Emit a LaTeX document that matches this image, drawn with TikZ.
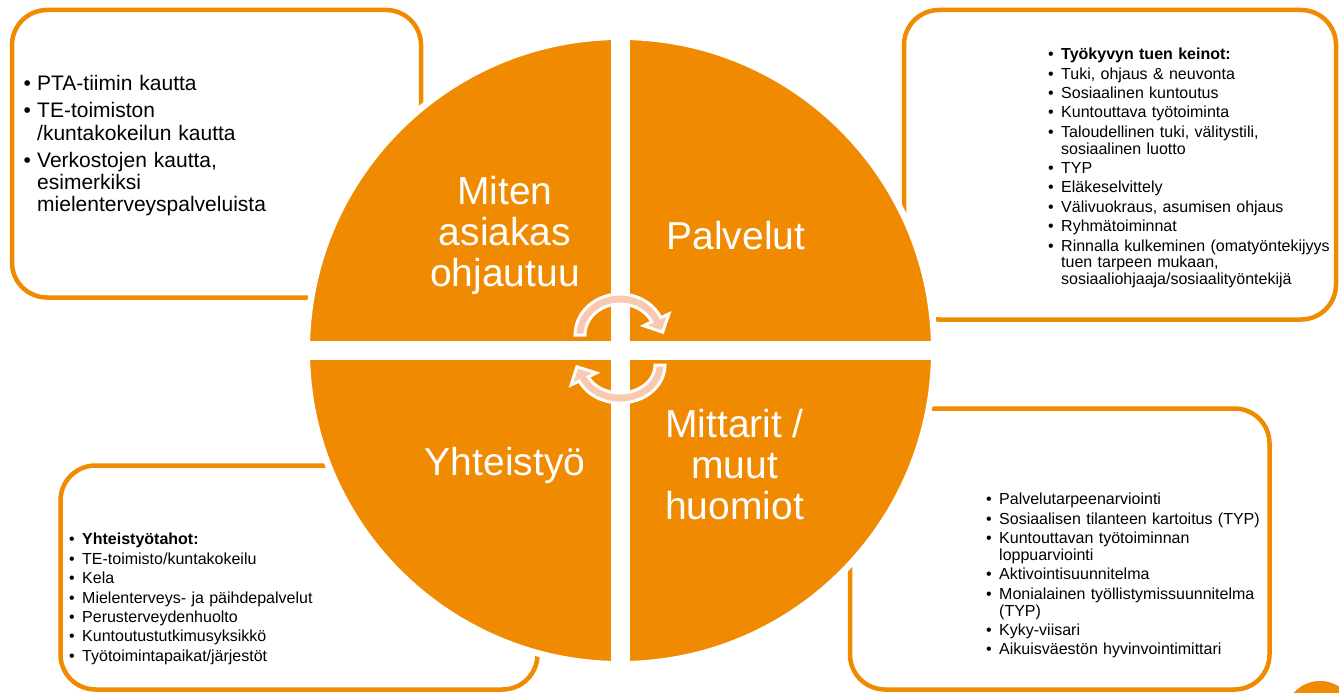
\documentclass[tikz,border=0pt]{standalone}
\usepackage{fontspec}
\setmainfont{Liberation Sans}
\definecolor{brandorange}{HTML}{F08A00}
\definecolor{arrowpink}{HTML}{F8C8B0}
\newlength\bulhang
\newlength\bulgap
\newcommand\bul[1]{\par\parskip=\bulgap\hangindent=\bulhang\hangafter=1\noindent\hbox to\bulhang{\strut\textbullet\hfil}#1\par}
\newcommand\biglist{\fontsize{21}{21.5}\selectfont\setlength\bulhang{13.5pt}\setlength\bulgap{5pt}}
\newcommand\smalllist{\fontsize{16}{16.8}\selectfont\setlength\bulhang{13pt}\setlength\bulgap{2.6pt}}
\begin{document}
\begin{tikzpicture}[x=1pt, y=-1pt]
	\tikzstyle{infobox} = [draw=brandorange, line width=4.5pt, rounded corners=35pt]
	\tikzstyle{quarter} = [text=white, align=center, inner sep=0pt, font=\fontsize{39}{41}\selectfont]
	\tikzstyle{listtext} = [anchor=north west, inner sep=0pt, text width=420pt]
	\tikzstyle{cyclearrow} = [fill=arrowpink, draw=white, line width=3pt, line join=miter]
	\useasboundingbox (0,0) rectangle (1339,693);
	% boxes behind the circle
	\draw[infobox] (12,10) rectangle (421,297.5);
	\draw[infobox] (904,10) rectangle (1336,319.5);
	\draw[infobox] (60.5,465.5) rectangle (537.5,689.5);
	\draw[infobox] (850,408.5) rectangle (1269.5,689.5);
	\fill[brandorange] (1320,716) circle (35);
	% circle in four quarters
	\draw[white, line width=6.5pt, fill=brandorange] (620.5,350.5) circle (313.75);
	\fill[white] (611,35) rectangle (630,666);
	\fill[white] (305,341) rectangle (936,360);
	% cycle arrows
	\draw[cyclearrow] plot[domain=-180:-25, samples=40] ({620+45*cos(\x)}, {335+41*sin(\x)})
		-- (668.9,313.9) -- (662.7,332.2) -- (643.6,325.7)
		-- plot[domain=-25:-180, samples=40] ({620+35*cos(\x)}, {335+31*sin(\x)}) -- cycle;
	\draw[cyclearrow] plot[domain=0:155, samples=40] ({620+45*cos(\x)}, {365+38*sin(\x)})
		-- (571.1,384.9) -- (576.9,366.8) -- (596.4,373.0)
		-- plot[domain=155:0, samples=40] ({620+35*cos(\x)}, {365+28*sin(\x)}) -- cycle;
	\node[quarter] (howto) at (505,235) {Miten\\asiakas\\ohjautuu};
	\node[quarter] (services) at (736,236) {Palvelut};
	\node[quarter] (cooperation) at (505,465) {Yhteistyö};
	\node[quarter] (metrics) at (734.5,465) {Mittarit /\\muut\\huomiot};
	% box texts
	\node[listtext, font=\biglist] (routes) at (23.5,63.6) {\bul{PTA-tiimin kautta}\bul{TE-toimiston\newline /kuntakokeilun kautta}\bul{Verkostojen kautta,\newline esimerkiksi\newline mielenterveyspalveluista}};
	\node[listtext, font=\smalllist] (means) at (1048,40.2) {\bul{\textbf{Työkyvyn tuen keinot:}}\bul{Tuki, ohjaus \& neuvonta}\bul{Sosiaalinen kuntoutus}\bul{Kuntouttava työtoiminta}\bul{Taloudellinen tuki, välitystili,\newline sosiaalinen luotto}\bul{TYP}\bul{Eläkeselvittely}\bul{Välivuokraus, asumisen ohjaus}\bul{Ryhmätoiminnat}\bul{Rinnalla kulkeminen (omatyöntekijyys\newline tuen tarpeen mukaan,\newline sosiaaliohjaaja/sosiaalityöntekijä}};
	\node[listtext, font=\smalllist] (partners) at (69,525.2) {\bul{\textbf{Yhteistyötahot:}}\bul{TE-toimisto/kuntakokeilu}\bul{Kela}\bul{Mielenterveys- ja päihdepalvelut}\bul{Perusterveydenhuolto}\bul{Kuntoutustutkimusyksikkö}\bul{Työtoimintapaikat/järjestöt}};
	\node[listtext, font=\smalllist] (measures) at (986,485.2) {\bul{Palvelutarpeenarviointi}\bul{Sosiaalisen tilanteen kartoitus (TYP)}\bul{Kuntouttavan työtoiminnan\newline loppuarviointi}\bul{Aktivointisuunnitelma}\bul{Monialainen työllistymissuunnitelma\newline (TYP)}\bul{Kyky-viisari}\bul{Aikuisväestön hyvinvointimittari}};
\end{tikzpicture}
\end{document}
